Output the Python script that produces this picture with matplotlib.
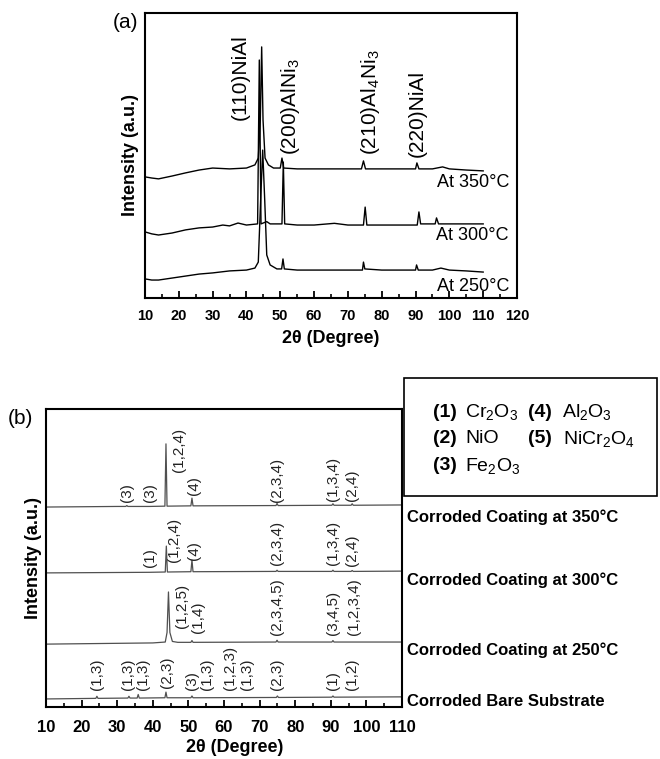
import matplotlib
matplotlib.use('Agg')
import matplotlib.pyplot as plt
from matplotlib.patches import Rectangle
from matplotlib.ticker import MultipleLocator

plt.rcParams['font.family'] = ['Liberation Sans', 'DejaVu Sans']
plt.rcParams['mathtext.default'] = 'regular'

# ---------------- Panel (a) data ----------------
a350_x = [10, 12, 14, 18, 22, 26, 30, 35, 40, 42.5, 43.5, 44.1, 44.5, 44.9, 45.5, 46.5, 48, 50,
          50.5, 51, 55, 60, 65, 70, 74, 74.6, 75.2, 80, 85, 90, 90.4, 91, 95, 98, 100, 105, 110]
a350_y = [42.5, 42.1, 41.8, 42.8, 43.9, 44.9, 45.6, 45.3, 45.6, 46.7, 49.1, 62.5, 88.1, 62.5, 49.1, 46.7, 45.6, 45.6,
          49.1, 45.6, 45.3, 45.3, 45.3, 45.3, 45.3, 48.1, 45.3, 45.3, 45.3, 45.3, 47.4, 45.3, 45.3, 46.0, 45.3, 44.9, 44.6]

a300_x = [10, 12, 14, 18, 22, 26, 30, 33, 35, 37.5, 40, 43.3, 43.8, 44.3, 46, 47, 50.5, 50.9, 51.3,
          55, 60, 66, 70, 74.6, 75.1, 75.6, 80, 85, 90.5, 91, 91.5, 95.8, 96.2, 96.8, 100, 105, 110]
a300_y = [23.2, 22.5, 22.1, 22.8, 23.9, 24.6, 24.9, 25.6, 25.3, 26.3, 25.6, 26.0, 83.5, 26.0, 26.8, 26.0, 26.0, 47.7, 26.0,
          25.6, 25.6, 26.2, 25.6, 25.6, 31.9, 25.6, 25.6, 25.6, 25.6, 30.2, 26.0, 26.0, 28.1, 26.0, 26.0, 26.0, 26.0]

a250_x = [10, 12, 14, 18, 22, 26, 30, 35, 40, 42.5, 43.5, 44.2, 44.8, 45.4, 46, 47, 49, 50.4, 50.8, 51.2,
          55, 60, 65, 70, 74.3, 74.6, 75, 80, 85, 90, 90.3, 90.8, 95, 97.5, 100, 105, 110]
a250_y = [6.7, 6.3, 6.3, 7.0, 7.7, 8.4, 8.8, 9.5, 9.8, 10.5, 12.6, 34.4, 51.9, 34.4, 15.1, 11.6, 10.2, 10.2, 13.7, 10.2,
          9.8, 9.8, 9.8, 9.8, 9.8, 12.6, 10.2, 9.8, 9.8, 9.8, 11.6, 9.8, 9.8, 10.5, 9.8, 9.5, 9.1]

a_peak_labels = ["(110)NiAl", "(200)AlNi$_3$", "(210)Al$_4$Ni$_3$", "(220)NiAl"]
a_peak_x = [38.1, 52.9, 76.6, 90.5]
a_peak_y = [62.5, 50.2, 50.2, 49.5]

a_temp_labels = ["At 350°C", "At 300°C", "At 250°C"]
a_temp_y = [40.4, 22.1, 3.9]

# ---------------- Panel (b) data ----------------
b350_x = [10, 30, 32.4, 32.7, 33.0, 39, 43.4, 43.7, 44.0, 50.7, 51.0, 51.3, 74.6, 74.9, 75.2,
          90.3, 90.6, 90.9, 95.7, 96.0, 96.3, 110]
b350_y = [67.1, 67.3, 67.3, 67.6, 67.3, 67.3, 67.4, 88.3, 67.4, 67.5, 70.1, 67.5, 67.6, 68.3, 67.6,
          67.7, 68.2, 67.7, 67.7, 68.2, 67.7, 67.8]

b300_x = [10, 39, 43.5, 43.8, 44.1, 50.7, 51.0, 51.3, 74.6, 74.9, 75.2, 90.3, 90.6, 90.9, 95.7, 96.0, 96.3, 110]
b300_y = [45.0, 45.2, 45.3, 54.0, 45.3, 45.4, 49.3, 45.4, 45.5, 45.9, 45.5, 45.5, 45.9, 45.5, 45.5, 45.8, 45.5, 45.6]

b250_x = [10, 40, 43.5, 44.0, 44.4, 44.8, 45.5, 47, 50.7, 51.0, 51.3, 74.6, 74.9, 75.2, 90.3, 90.6, 90.9, 110]
b250_y = [21.1, 21.5, 21.8, 25.0, 38.6, 25.0, 22.0, 21.7, 21.7, 22.3, 21.7, 21.8, 22.4, 21.8, 21.8, 22.3, 21.8, 21.8]

bbare_x = [10, 24.0, 24.3, 24.6, 33.0, 33.3, 33.6, 35.6, 35.9, 36.2, 43.4, 43.7, 44.0, 50.7, 51.0, 51.3,
           74.7, 75.0, 75.3, 90.3, 90.6, 90.9, 110]
bbare_y = [2.7, 2.9, 3.6, 2.9, 3.0, 3.6, 3.0, 3.0, 4.2, 3.0, 3.1, 5.0, 3.1, 3.1, 3.7, 3.1,
           3.2, 3.7, 3.2, 3.3, 3.7, 3.3, 3.4]

b_labels = ["(3)", "(3)", "(1,2,4)", "(4)", "(2,3,4)", "(1,3,4)", "(2,4)",
            "(1)", "(1,2,4)", "(4)", "(2,3,4)", "(1,3,4)", "(2,4)",
            "(1,2,5)", "(1,4)", "(2,3,4,5)", "(3,4,5)", "(1,2,3,4)",
            "(1,3)", "(1,3)", "(1,3)", "(2,3)", "(3)", "(1,3)", "(1,2,3)", "(1,3)", "(2,3)", "(1)", "(1,2)"]
b_label_x = [32.7, 39.2, 47.4, 51.6, 74.9, 90.6, 96.0,
             39.2, 46.0, 51.6, 74.9, 90.6, 96.0,
             48.2, 52.7, 74.9, 90.6, 96.6,
             24.3, 33.1, 37.3, 43.9, 51.0, 55.2, 61.7, 66.4, 74.9, 90.6, 96.0]
b_label_y = [68.8, 68.8, 78.9, 71.1, 68.8, 69.1, 69.1,
             47.0, 48.7, 49.3, 47.7, 47.7, 47.3,
             26.5, 24.8, 24.2, 24.2, 24.2,
             5.7, 5.7, 5.7, 6.4, 5.7, 5.7, 5.7, 5.7, 5.7, 5.7, 5.7]

b_right_labels = ["Corroded Coating at 350°C", "Corroded Coating at 300°C",
                  "Corroded Coating at 250°C", "Corroded Bare Substrate"]
b_right_y = [517, 580, 650, 702]

legend_nums = ["(1)", "(4)", "(2)", "(5)", "(3)"]
legend_names = ["Cr$_2$O$_3$", "Al$_2$O$_3$", "NiO", "NiCr$_2$O$_4$", "Fe$_2$O$_3$"]

# ---------------- Figure ----------------
W, H = 660, 759
fig = plt.figure(figsize=(6.6, 7.59), dpi=100)


def fx(px):
    return px / W


def fy(py):
    return 1 - py / H


def style_axes(ax, tick_fs, pad):
    for s in ax.spines.values():
        s.set_linewidth(1.5)
        s.set_color('black')
    ax.set_yticks([])
    ax.xaxis.set_major_locator(MultipleLocator(10))
    ax.xaxis.set_minor_locator(MultipleLocator(5))
    ax.tick_params(axis='x', which='major', direction='in', length=5, width=1.3,
                   labelsize=tick_fs, pad=pad, top=False)
    ax.tick_params(axis='x', which='minor', direction='in', length=3, width=1.2, top=False)
    for lab in ax.get_xticklabels():
        lab.set_fontweight('bold')


# Panel (a)
axa = fig.add_axes([fx(145), fy(298), fx(517 - 145), (298 - 13) / H])
axa.plot(a350_x, a350_y, color='black', lw=1.0)
axa.plot(a300_x, a300_y, color='black', lw=1.0)
axa.plot(a250_x, a250_y, color='black', lw=1.0)
axa.set_xlim(10, 120)
axa.set_ylim(0, 100)
style_axes(axa, 10.5, 8)
axa.set_xlabel("2θ (Degree)", fontsize=13, fontweight='bold', labelpad=5)
axa.set_ylabel("Intensity (a.u.)", fontsize=13, fontweight='bold', labelpad=4)
for t, x, y in zip(a_peak_labels, a_peak_x, a_peak_y):
    axa.text(x, y, t, rotation=90, ha='center', va='bottom', fontsize=15)
for t, y in zip(a_temp_labels, a_temp_y):
    axa.text(117.6, y, t, ha='right', va='center', fontsize=13)
fig.text(fx(125), fy(23), "(a)", ha='center', va='center', fontsize=15)

# Panel (b)
axb = fig.add_axes([fx(46), fy(707), fx(402 - 46), (707 - 409) / H])
for xs, ys in [(b350_x, b350_y), (b300_x, b300_y), (b250_x, b250_y), (bbare_x, bbare_y)]:
    axb.plot(xs, ys, color='#505050', lw=0.9)
axb.set_xlim(10, 110)
axb.set_ylim(0, 100)
style_axes(axb, 12, 9)
axb.set_xlabel("2θ (Degree)", fontsize=13, fontweight='bold')
axb.xaxis.set_label_coords(0.53, -0.108)
axb.set_ylabel("Intensity (a.u.)", fontsize=13, fontweight='bold', labelpad=3)
for t, x, y in zip(b_labels, b_label_x, b_label_y):
    axb.text(x, y, t, rotation=90, ha='center', va='bottom', fontsize=11, color='#222222')
fig.text(fx(20), fy(418), "(b)", ha='center', va='center', fontsize=15)

for t, y in zip(b_right_labels, b_right_y):
    fig.text(fx(407), fy(y), t, ha='left', va='center', fontsize=12, fontweight='bold')

# Legend box
fig.patches.append(Rectangle((fx(404), fy(496)), fx(657 - 404), (496 - 378) / H,
                             transform=fig.transFigure, fill=False, lw=1.2, ec='black'))
num_px = [433, 528, 433, 528, 433]
name_px = [465, 562, 465, 563, 465]
row_py = [412, 412, 439, 439, 466]
for n, nm, xn, xm, yr in zip(legend_nums, legend_names, num_px, name_px, row_py):
    fig.text(fx(xn), fy(yr), n, ha='left', va='center', fontsize=14, fontweight='bold')
    fig.text(fx(xm), fy(yr), nm, ha='left', va='center', fontsize=14)

fig.savefig('out.png', dpi=100)
